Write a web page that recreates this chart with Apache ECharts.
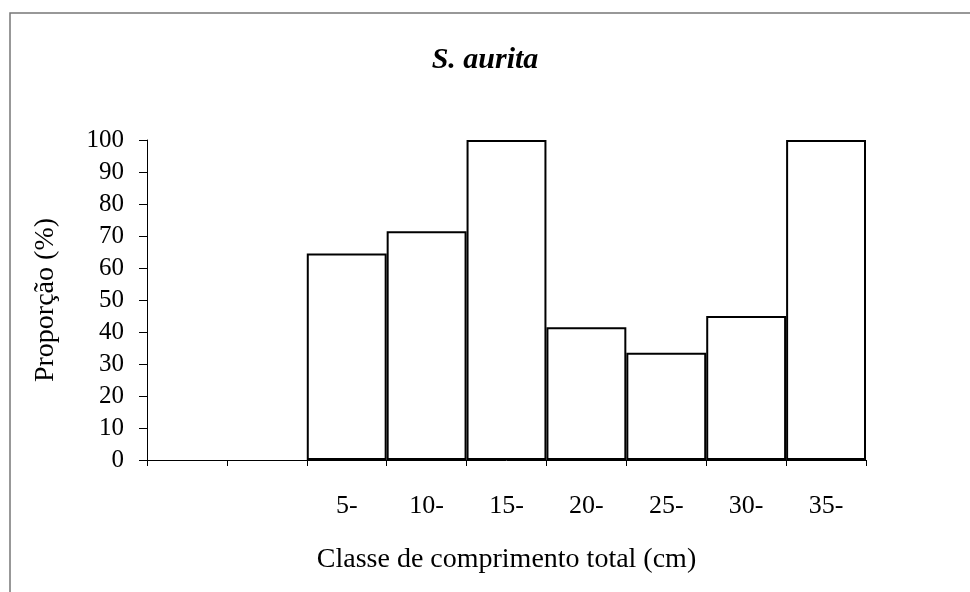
<!DOCTYPE html>
<html>
<head>
<meta charset="UTF-8">
<title>S. aurita</title>
<style type="text/css">
  html, body { margin: 0; padding: 0; background: #fff; }
  #main { width: 970px; height: 592px; }
</style>
<script src="https://cdn.jsdelivr.net/npm/echarts@6/dist/echarts.min.js"></script>
</head>
<body>
<div id="main"></div>
<script type="text/javascript">
// classes de comprimento (as duas primeiras ficam vazias)
var classes = ['', '', '5-', '10-', '15-', '20-', '25-', '30-', '35-'];
var proporcao = [null, null, 64.5, 71.5, 100, 41.5, 33.5, 45, 100];
var yTicks = [0, 10, 20, 30, 40, 50, 60, 70, 80, 90, 100];

var serif = 'Liberation Serif';

var option = {
  backgroundColor: '#fff',
  animation: false,
  title: {
    text: 'S. aurita',
    left: 'center',
    top: 40,
    textStyle: {
      fontFamily: serif,
      fontStyle: 'italic',
      fontWeight: 'bold',
      fontSize: 30,
      color: '#000'
    }
  },
  graphic: [{
    type: 'rect',
    shape: { x: 10, y: 13, width: 980, height: 600 },
    style: { fill: 'none', stroke: '#777', lineWidth: 1.5 },
    silent: true
  }],
  grid: { left: 147, right: 104, top: 140, bottom: 132 },
  xAxis: {
    type: 'category',
    data: classes,
    name: 'Classe de comprimento total (cm)',
    nameLocation: 'middle',
    nameGap: 86,
    nameTextStyle: { fontFamily: serif, fontSize: 28, color: '#000' },
    axisLine: { lineStyle: { color: '#000', width: 1 } },
    axisTick: { show: true, length: 6, lineStyle: { color: '#000' } },
    axisLabel: { margin: 33, fontFamily: serif, fontSize: 26, color: '#000' },
    splitLine: { show: false }
  },
  yAxis: {
    type: 'value',
    min: yTicks[0],
    max: yTicks[yTicks.length - 1],
    interval: 10,
    name: 'Proporção (%)',
    nameLocation: 'middle',
    nameGap: 87,
    nameTextStyle: { fontFamily: serif, fontSize: 28, color: '#000' },
    axisLine: { show: true, lineStyle: { color: '#000', width: 1 } },
    axisTick: { show: true, length: 8, lineStyle: { color: '#000' } },
    axisLabel: { margin: 23, fontFamily: serif, fontSize: 25, color: '#000' },
    splitLine: { show: false }
  },
  series: [{
    type: 'bar',
    data: proporcao,
    barCategoryGap: 0,
    itemStyle: { color: '#fff', borderColor: '#000', borderWidth: 2 }
  }]
};

var myChart = echarts.init(document.getElementById('main'));
myChart.setOption(option);
</script>
</body>
</html>
